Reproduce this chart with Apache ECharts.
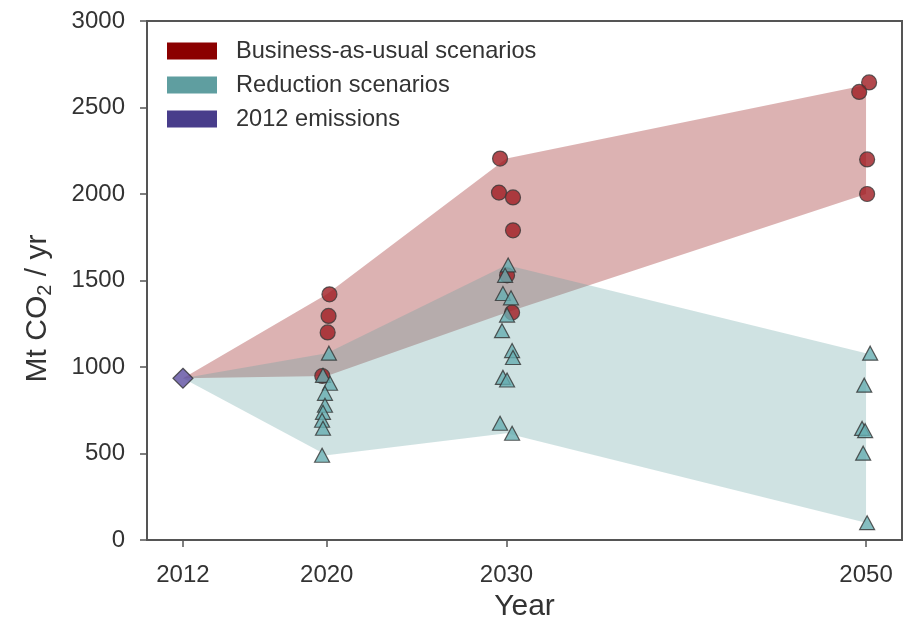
<!DOCTYPE html>
<html>
<head>
<meta charset="utf-8">
<title>CO2 emission scenarios</title>
<script src="https://cdn.jsdelivr.net/npm/echarts@6/dist/echarts.min.js"></script>
<style>
  html, body { margin: 0; padding: 0; background: #fff; }
  #chart { width: 915px; height: 621px; }
</style>
</head>
<body>
<div id="chart"></div>
<script>
// Year ticks shown on the horizontal axis
const yearTicks = [2012, 2020, 2030, 2050];

// 2012 starting point (Mt CO2 / yr)
const emissions2012 = [[2012, 935]];

// Business-as-usual scenario results: [year (slightly spread), Mt CO2 / yr]
const bauPoints = [
  [2020.15, 1420], [2020.1, 1295], [2020.05, 1200], [2019.75, 948],
  [2029.64, 2205], [2029.58, 2008], [2030.36, 1980], [2030.36, 1790], [2030.03, 1530], [2030.31, 1315],
  [2050.17, 2645], [2049.62, 2590], [2050.06, 2200], [2050.06, 2000]
];

// Reduction scenario results: [year (slightly spread), Mt CO2 / yr]
const reductionPoints = [
  [2020.12, 1080], [2019.79, 952], [2020.18, 906], [2019.9, 848], [2019.9, 779],
  [2019.79, 738], [2019.74, 692], [2019.79, 646], [2019.74, 490],
  [2030.09, 1590], [2029.92, 1530], [2029.8, 1425], [2030.25, 1400], [2030.03, 1300], [2029.75, 1210],
  [2030.31, 1095], [2030.36, 1055], [2029.8, 940], [2030.03, 925], [2029.64, 675], [2030.31, 617],
  [2050.23, 1080], [2049.9, 895], [2049.78, 645], [2049.95, 632], [2049.84, 502], [2050.06, 100]
];

// Envelope of each scenario family per year
const bandYears = [2012, 2020, 2030, 2050];
const bauLow  = [935, 948, 1315, 2000];
const bauHigh = [935, 1420, 2205, 2630];
const redLow  = [935, 490, 617, 100];
const redHigh = [935, 1080, 1590, 1080];

const TEXT = '#333';
const AXIS = '#555';

// A shaded envelope drawn as one polygon: upper edge left to right, lower edge back
function band(low, high, fill, z) {
  return {
    type: 'custom', silent: true, z: z,
    data: bandYears.map((y, i) => [y, low[i], high[i]]),
    encode: { x: 0, y: [1, 2] },
    renderItem: function (params, api) {
      if (params.dataIndex !== 0) return null;
      const upper = bandYears.map((y, i) => api.coord([y, high[i]]));
      const lower = bandYears.map((y, i) => api.coord([y, low[i]])).reverse();
      return {
        type: 'polygon',
        shape: { points: upper.concat(lower) },
        style: { fill: fill, stroke: null }
      };
    }
  };
}

const chart = echarts.init(document.getElementById('chart'), null, { renderer: 'canvas' });

chart.setOption({
  animation: false,
  backgroundColor: '#fff',
  textStyle: { fontFamily: 'Liberation Sans, Arial, sans-serif' },
  grid: {
    left: 147, top: 21, width: 755, height: 519,
    outerBoundsMode: 'none', containLabel: false,
    show: true, borderColor: AXIS, borderWidth: 2, backgroundColor: 'transparent'
  },
  legend: {
    orient: 'vertical', left: 162, top: 34,
    itemWidth: 50, itemHeight: 17, itemGap: 10,
    textStyle: { fontSize: 23.6, lineHeight: 24, color: TEXT, padding: [0, 0, 0, 14] },
    selectedMode: false,
    data: [
      { name: 'Business-as-usual scenarios', icon: 'rect', itemStyle: { color: '#8b0000', opacity: 1, borderWidth: 0 } },
      { name: 'Reduction scenarios', icon: 'rect', itemStyle: { color: '#5f9ea0', opacity: 1, borderWidth: 0 } },
      { name: '2012 emissions', icon: 'rect', itemStyle: { color: '#483d8b', opacity: 1, borderWidth: 0 } }
    ]
  },
  xAxis: {
    type: 'value', min: 2010, max: 2052,
    name: 'Year', nameLocation: 'middle', nameGap: 52,
    nameTextStyle: { fontSize: 30, color: TEXT },
    splitLine: { show: false },
    axisLine: { lineStyle: { color: AXIS, width: 2 } },
    axisTick: { customValues: yearTicks, length: 7, lineStyle: { color: AXIS, width: 1.5 } },
    axisLabel: { customValues: yearTicks, fontSize: 24, color: TEXT, margin: 23, formatter: v => String(v) }
  },
  yAxis: {
    type: 'value', min: 0, max: 3000, interval: 500,
    name: 'Mt CO{sub|2} / yr', nameLocation: 'middle', nameGap: 92,
    nameTextStyle: {
      fontSize: 30, color: TEXT, padding: [0, 56, 0, 0],
      rich: { sub: { fontSize: 20, color: TEXT, padding: [14, 0, 0, 0] } }
    },
    splitLine: { show: false },
    axisLine: { lineStyle: { color: AXIS, width: 2 } },
    axisTick: { length: 7, lineStyle: { color: AXIS, width: 1.5 } },
    axisLabel: { fontSize: 24, color: TEXT, margin: 22, formatter: v => String(v) }
  },
  series: [
    band(bauLow, bauHigh, 'rgba(139,0,0,0.3)', 1),
    band(redLow, redHigh, 'rgba(95,158,160,0.3)', 2),
    {
      name: 'Business-as-usual scenarios', type: 'scatter', z: 3,
      symbol: 'circle', symbolSize: 15,
      itemStyle: { color: '#9f1a21', borderColor: '#3a3a3a', borderWidth: 1.2 },
      data: bauPoints
    },
    {
      name: 'Reduction scenarios', type: 'scatter', z: 4,
      symbol: 'triangle', symbolSize: [15, 14],
      itemStyle: { color: '#66aeb1', borderColor: '#333', borderWidth: 1.2 },
      data: reductionPoints
    },
    {
      name: '2012 emissions', type: 'scatter', z: 5,
      symbol: 'diamond', symbolSize: 20,
      itemStyle: { color: '#5c4ea0', borderColor: '#333', borderWidth: 1.2 },
      data: emissions2012
    }
  ]
});
</script>
</body>
</html>
